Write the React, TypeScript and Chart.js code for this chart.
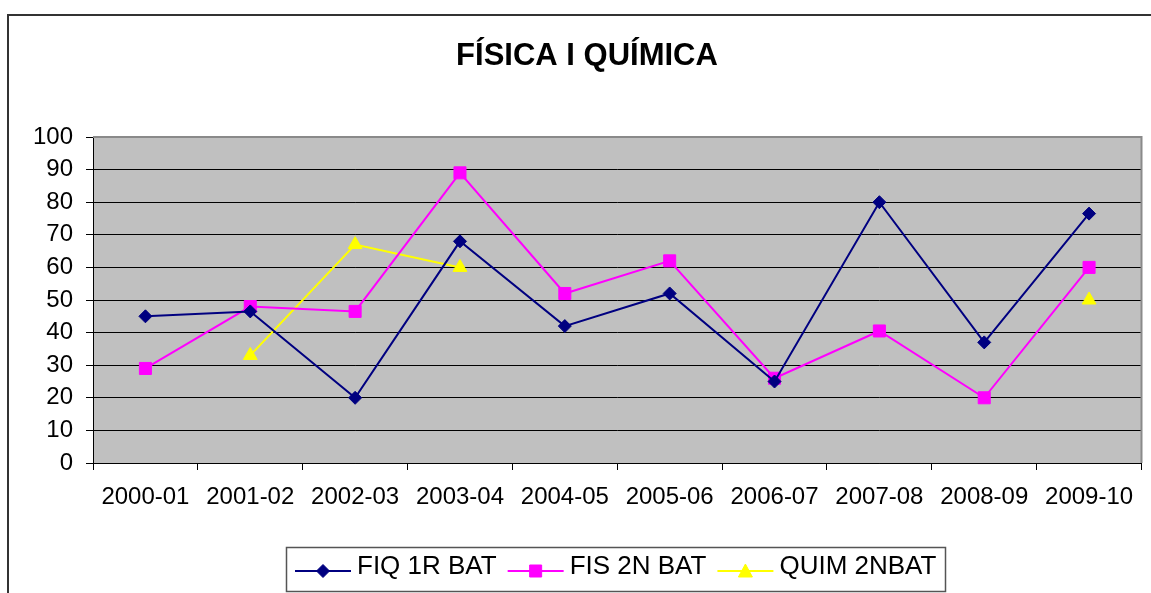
import React, { useEffect, useRef } from "react";
import { Chart, registerables } from "chart.js";

Chart.register(...registerables);

const categories = [
  "2000-01", "2001-02", "2002-03", "2003-04", "2004-05",
  "2005-06", "2006-07", "2007-08", "2008-09", "2009-10",
];
const fiq1rBat = [45, 46.5, 20, 68, 42, 52, 25, 80, 37, 76.5];
const fis2nBat = [29, 48, 46.5, 89, 52, 62, 26, 40.5, 20, 60];
const quim2nBat = [null, 33, 67, 60, null, null, null, null, null, 50];
const seriesLabels = ["FIQ 1R BAT", "FIS 2N BAT", "QUIM 2NBAT"];
const seriesColors = ["#000080", "#FF00FF", "#FFFF00"];
const seriesMarkers = ["rectRot", "rect", "triangle"];
const titleText = "FÍSICA I QUÍMICA";
const yMin = 0;
const yMax = 100;
const yStep = 10;

const FONT = "'Liberation Sans', Arial, sans-serif";

function drawMarker(ctx: CanvasRenderingContext2D, style: string, x: number, y: number, color: string) {
  ctx.save();
  ctx.fillStyle = color;
  ctx.strokeStyle = color;
  ctx.lineWidth = 1;
  ctx.beginPath();
  if (style === "rectRot") {
    const r = 6.5;
    ctx.moveTo(x, y - r);
    ctx.lineTo(x + r, y);
    ctx.lineTo(x, y + r);
    ctx.lineTo(x - r, y);
  } else if (style === "rect") {
    const s = 6;
    ctx.rect(x - s, y - s, 2 * s, 2 * s);
  } else {
    const h = 12;
    const w = 7;
    ctx.moveTo(x, y - h / 2 - 1);
    ctx.lineTo(x + w, y + h / 2);
    ctx.lineTo(x - w, y + h / 2);
  }
  ctx.closePath();
  ctx.fill();
  ctx.stroke();
  ctx.restore();
}

const decorPlugin = {
  id: "excelDecor",
  beforeDraw(chart: any) {
    const { ctx, chartArea } = chart;
    ctx.save();
    ctx.fillStyle = "#FFFFFF";
    ctx.fillRect(0, 0, chart.width, chart.height);
    // outer chart border
    ctx.strokeStyle = "#333333";
    ctx.lineWidth = 2;
    ctx.strokeRect(8, 15, chart.width + 20, chart.height + 20);
    // title
    ctx.fillStyle = "#000000";
    ctx.font = `bold 31px ${FONT}`;
    ctx.textAlign = "center";
    ctx.textBaseline = "middle";
    ctx.fillText(titleText, 587, 56);
    // plot area background
    ctx.fillStyle = "#C0C0C0";
    ctx.fillRect(chartArea.left, chartArea.top, chartArea.right - chartArea.left, chartArea.bottom - chartArea.top);
    ctx.restore();
  },
  afterDraw(chart: any) {
    const { ctx, chartArea } = chart;
    ctx.save();
    // plot area gray border top/right
    ctx.strokeStyle = "#8A8A8A";
    ctx.lineWidth = 2;
    ctx.beginPath();
    ctx.moveTo(chartArea.left, chartArea.top);
    ctx.lineTo(chartArea.right, chartArea.top);
    ctx.lineTo(chartArea.right, chartArea.bottom);
    ctx.stroke();

    // legend box
    ctx.strokeStyle = "#555555";
    ctx.lineWidth = 1.5;
    ctx.strokeRect(286.5, 547.5, 659, 44);

    ctx.font = `26px ${FONT}`;
    ctx.textAlign = "left";
    ctx.textBaseline = "middle";
    let x = 295;
    const lineY = 571;
    chart.data.datasets.forEach((ds: any, i: number) => {
      ctx.strokeStyle = seriesColors[i];
      ctx.lineWidth = 2;
      ctx.beginPath();
      ctx.moveTo(x, lineY);
      ctx.lineTo(x + 56, lineY);
      ctx.stroke();
      drawMarker(ctx, seriesMarkers[i], x + 28, lineY, seriesColors[i]);
      ctx.fillStyle = "#000000";
      ctx.fillText(ds.label, x + 62, 567);
      x += 62 + ctx.measureText(ds.label).width + 11;
    });
    ctx.restore();
  },
};

export default function App() {
  const canvasRef = useRef<HTMLCanvasElement | null>(null);

  useEffect(() => {
    if (!canvasRef.current) return;
    const makeDs = (label: string, data: any[], i: number) => ({
      label,
      data,
      borderColor: seriesColors[i],
      backgroundColor: seriesColors[i],
      borderWidth: 2,
      pointStyle: seriesMarkers[i],
      pointRadius: i === 0 ? 6.5 : i === 1 ? 8.5 : 8,
      pointBorderWidth: 1,
      pointBackgroundColor: seriesColors[i],
      pointBorderColor: seriesColors[i],
      tension: 0,
      spanGaps: false,
    });
    const chart = new Chart(canvasRef.current, {
      type: "line",
      data: {
        labels: categories,
        datasets: [
          makeDs(seriesLabels[0], fiq1rBat, 0),
          makeDs(seriesLabels[1], fis2nBat, 1),
          makeDs(seriesLabels[2], quim2nBat, 2),
        ],
      },
      options: {
        responsive: false,
        animation: false,
        devicePixelRatio: 1,
        layout: { padding: { left: 8, top: 137, right: 8, bottom: 0 } },
        plugins: {
          legend: { display: false },
          title: { display: false },
          tooltip: { enabled: false },
        },
        scales: {
          x: {
            type: "category",
            offset: true,
            grid: {
              offset: true,
              drawOnChartArea: false,
              drawTicks: true,
              tickLength: 7,
              tickColor: "#000000",
              tickWidth: 1,
            },
            border: { display: true, color: "#000000", width: 1 },
            ticks: {
              color: "#000000",
              font: { family: FONT, size: 24 },
              padding: 13,
              maxRotation: 0,
              autoSkip: false,
            },
            afterFit: (scale: any) => {
              scale.height = 130;
            },
          },
          y: {
            min: yMin,
            max: yMax,
            grid: {
              color: "#000000",
              lineWidth: 1,
              drawTicks: true,
              tickLength: 7,
              tickColor: "#000000",
            },
            border: { display: true, color: "#000000", width: 1 },
            ticks: {
              stepSize: yStep,
              color: "#000000",
              font: { family: FONT, size: 24 },
              padding: 13,
            },
            afterFit: (scale: any) => {
              scale.width = 85;
            },
          },
        },
      },
      plugins: [decorPlugin],
    } as any);
    return () => chart.destroy();
  }, []);

  return (
    <div style={{ position: "fixed", left: 0, top: 0, width: 1151, height: 593, background: "#fff" }}>
      <canvas ref={canvasRef} width={1151} height={593} style={{ display: "block" }} />
    </div>
  );
}
